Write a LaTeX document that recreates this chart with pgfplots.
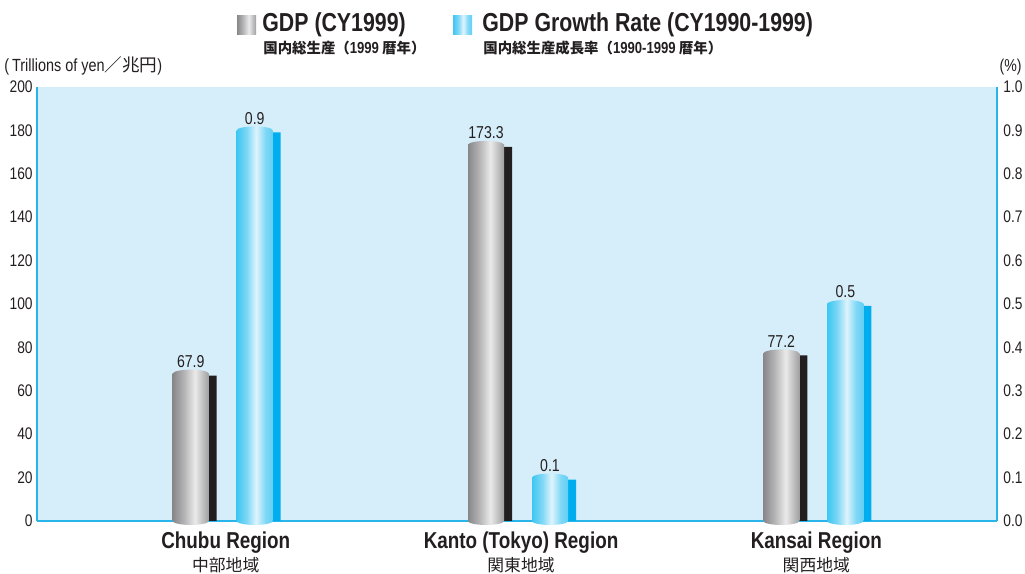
\documentclass[border=0pt]{standalone}
\usepackage{pgfplots}
\pgfplotsset{compat=1.18}
\usepackage{fontspec}
\setmainfont{Liberation Sans}[FakeStretch=0.82]
\newfontfamily\cjk{Noto Sans CJK JP}
\usetikzlibrary{shapes.geometric}

\definecolor{bgblue}{HTML}{D6EEFA}
\definecolor{linecol}{HTML}{29B5EA}
\definecolor{textcol}{HTML}{231F20}
\definecolor{gA}{HTML}{88888A}
\definecolor{gB}{HTML}{B2B2B4}
\definecolor{gC}{HTML}{EAEAEA}
\definecolor{gD}{HTML}{A0A0A2}
\definecolor{bA}{HTML}{3EC7F2}
\definecolor{bB}{HTML}{7ED7F6}
\definecolor{bC}{HTML}{DEF4FC}
\definecolor{bD}{HTML}{62D0F4}
\definecolor{gshadow}{HTML}{231F20}
\definecolor{bshadow}{HTML}{00AEEF}

% cylinder look: the 25bp..75bp band lands on the bar
\pgfdeclarehorizontalshading{graycyl}{100bp}{color(0bp)=(gA); color(25bp)=(gA); color(40bp)=(gB); color(56bp)=(gC); color(75bp)=(gD); color(100bp)=(gD)}
\pgfdeclarehorizontalshading{bluecyl}{100bp}{color(0bp)=(bA); color(25bp)=(bA); color(39bp)=(bB); color(52bp)=(bC); color(65bp)=(bB); color(75bp)=(bD); color(100bp)=(bD)}

\newcommand\catlab[2]{{\fontsize{11.5}{12}\selectfont\bfseries #1}\\{\cjk\fontsize{8.4}{10}\selectfont #2}}

\pgfplotsset{
  cap/.style 2 args={nodes near coords={\relax}, every node near coord/.style={ellipse, shading=#1, draw=none, minimum width=18pt, minimum height=4pt, inner sep=0pt, anchor=center, xshift=#2}},
  vallab/.style={draw=none, fill=none, nodes near coords, every node near coord/.style={anchor=south, xshift=#1, yshift=1.8pt, inner sep=1pt, text=textcol, font=\fontsize{8.6}{10}\selectfont, /pgf/number format/.cd, fixed, precision=1}},
}

\begin{document}
\begin{tikzpicture}
\begin{axis}[
  scale only axis, width=480pt, height=217pt,
  xmin=-0.629, xmax=2.622, ymin=0, ymax=200,
  ytick={0,20,...,200}, xtick={0,1,2},
  xticklabels={{\catlab{Chubu Region}{中部地域}},{\catlab{Kanto (Tokyo) Region}{関東地域}},{\catlab{Kansai Region}{関西地域}}},
  axis y line*=left, axis x line*=bottom,
  axis line style={linecol, line width=0.8pt, -},
  major tick length=0pt,
  axis background/.style={fill=bgblue},
  ybar, bar width=18pt,
  /pgf/number format/assume math mode=true,
  tick label style={text=textcol, font=\fontsize{8.4}{10}\selectfont},
  yticklabel style={anchor=east, inner sep=0pt, xshift=-2pt},
  xticklabel style={align=center, anchor=north, inner sep=0pt, yshift=-5pt, xshift=1.5pt, font=\fontsize{8.4}{11.8}\selectfont},
]
\coordinate (R) at (rel axis cs:1,1);
\coordinate (T) at (rel axis cs:0,1);
\coordinate (O) at (rel axis cs:0,0);
% shadows
\addplot[bar shift=-5pt, bar width=4pt, fill=gshadow, draw=none, yshift=-1pt] coordinates {(0,67.9) (1,173.3) (2,77.2)};
% bottom caps
\addplot[bar shift=-16pt, draw=none, fill=none, cap={graycyl}{-16pt}] coordinates {(0,0) (1,0) (2,0)};
% GDP bars, one plot each so that each gets its own shading
\addplot[bar shift=-16pt, draw=none, shading=graycyl] coordinates {(0,67.9)};
\addplot[bar shift=-16pt, draw=none, shading=graycyl] coordinates {(1,173.3)};
\addplot[bar shift=-16pt, draw=none, shading=graycyl] coordinates {(2,77.2)};
% top caps and labels
\addplot[bar shift=-16pt, draw=none, fill=none, cap={graycyl}{-16pt}] coordinates {(0,67.9) (1,173.3) (2,77.2)};
\addplot[bar shift=-16pt, vallab=-16pt] coordinates {(0,67.9) (1,173.3) (2,77.2)};
\end{axis}

\begin{axis}[
  scale only axis, width=480pt, height=217pt,
  xmin=-0.629, xmax=2.622, ymin=0, ymax=1,
  ytick={0,0.1,0.2,0.3,0.4,0.5,0.6,0.7,0.8,0.9,1.0},
  axis y line*=right, axis x line=none,
  axis line style={linecol, line width=0.8pt, -},
  major tick length=0pt,
  ybar, bar width=18pt,
  /pgf/number format/assume math mode=true,
  yticklabel style={anchor=west, inner sep=0pt, xshift=3pt, text=textcol, font=\fontsize{8.4}{10}\selectfont, /pgf/number format/.cd, fixed, fixed zerofill, precision=1},
]
\addplot[bar shift=27pt, bar width=4pt, fill=bshadow, draw=none, yshift=-1pt] coordinates {(0,0.9) (1,0.1) (2,0.5)};
\addplot[bar shift=16pt, draw=none, fill=none, cap={bluecyl}{16pt}] coordinates {(0,0) (1,0) (2,0)};
\addplot[bar shift=16pt, draw=none, shading=bluecyl] coordinates {(0,0.9)};
\addplot[bar shift=16pt, draw=none, shading=bluecyl] coordinates {(1,0.1)};
\addplot[bar shift=16pt, draw=none, shading=bluecyl] coordinates {(2,0.5)};
\addplot[bar shift=16pt, draw=none, fill=none, cap={bluecyl}{16pt}] coordinates {(0,0.9) (1,0.1) (2,0.5)};
\addplot[bar shift=16pt, vallab=16pt] coordinates {(0,0.9) (1,0.1) (2,0.5)};
\end{axis}

% canvas
\path (O) ++(-18.5pt,-26pt) coordinate (BL);
\path (R) ++(14pt,43.5pt) coordinate (TRc);
\path (BL) rectangle (TRc);

% unit labels
\node[anchor=base west, inner sep=0pt, text=textcol, font=\fontsize{8.8}{10}\selectfont] at ([xshift=-16.5pt, yshift=7.5pt]T) {(\,Trillions of yen{\cjk ／兆円})};
\node[anchor=base east, inner sep=0pt, text=textcol, font=\fontsize{8.6}{10}\selectfont] at ([xshift=12.5pt, yshift=7.5pt]R) {(\%)};

% legend
\begin{scope}[shift={(T)}]
\shade[shading=graycyl] (100pt,26pt) rectangle (109.5pt,35.5pt);
\node[anchor=base west, inner sep=0pt, text=textcol, font=\fontsize{13}{15}\selectfont\bfseries] at (112.5pt,27.5pt) {GDP (CY1999)};
\node[anchor=base west, inner sep=0pt, text=textcol, font=\fontsize{7.2}{9}\selectfont\bfseries] at (113pt,16.5pt) {{\cjk 国内総生産（}{\fontsize{8}{9}\selectfont 1999} {\cjk 暦年）}};
\shade[shading=bluecyl] (208pt,26pt) rectangle (217.5pt,35.5pt);
\node[anchor=base west, inner sep=0pt, text=textcol, font=\fontsize{13}{15}\selectfont\bfseries] at (222.5pt,27.5pt) {GDP Growth Rate (CY1990-1999)};
\node[anchor=base west, inner sep=0pt, text=textcol, font=\fontsize{7.2}{9}\selectfont\bfseries] at (223pt,16.5pt) {{\cjk 国内総生産成長率（}{\fontsize{8}{9}\selectfont 1990-1999} {\cjk 暦年）}};
\end{scope}
\end{tikzpicture}
\end{document}
